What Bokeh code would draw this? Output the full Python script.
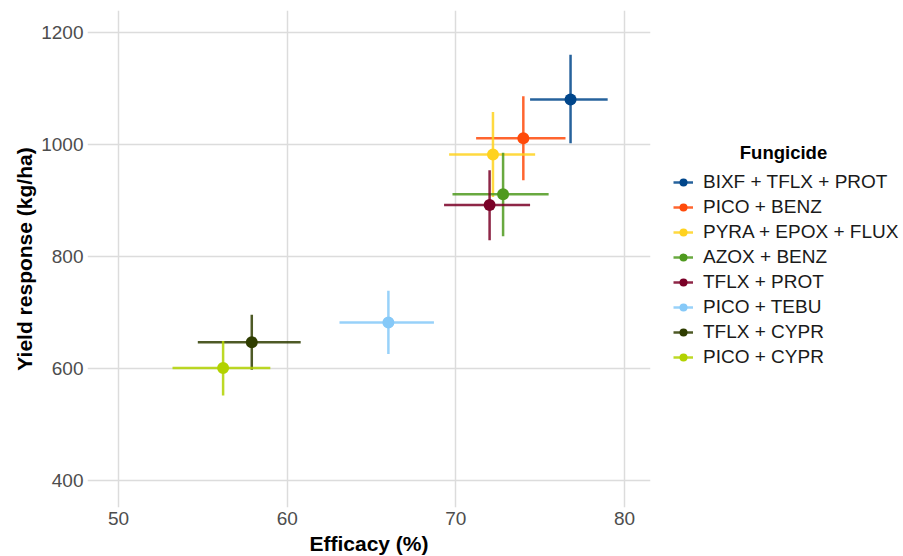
from bokeh.plotting import figure
from bokeh.models import ColumnDataSource, Legend, LegendItem, Range1d, FixedTicker
from bokeh.embed import file_html
from bokeh.resources import INLINE

fungicide = ["BIXF + TFLX + PROT", "PICO + BENZ", "PYRA + EPOX + FLUX", "AZOX + BENZ",
             "TFLX + PROT", "PICO + TEBU", "TFLX + CYPR", "PICO + CYPR"]
efficacy = [76.8, 74.0, 72.2, 72.8, 72.0, 66.0, 57.9, 56.2]
eff_lo = [74.4, 71.2, 69.6, 69.8, 69.3, 63.1, 54.7, 53.2]
eff_hi = [79.0, 76.5, 74.7, 75.5, 74.4, 68.7, 60.8, 59.0]
yield_resp = [1080, 1011, 982, 911, 892, 682, 647, 601]
yield_lo = [1002, 936, 906, 836, 829, 626, 598, 552]
yield_hi = [1160, 1086, 1058, 985, 954, 739, 696, 649]
colors = ["#00468B", "#FF4A0A", "#FFD21F", "#4F9A1F", "#7A0027", "#86C9F8", "#2F3D00", "#B2D200"]
legend_title = "Fungicide"

FONT = "Liberation Sans"

p = figure(output_backend="svg", toolbar_location=None,
           frame_width=563, frame_height=497,
           min_border_left=87, min_border_right=253, min_border_top=10, min_border_bottom=49,
           x_range=Range1d(48.16, 81.54), y_range=Range1d(352, 1239))
p.background_fill_color = "white"
p.border_fill_color = "white"
p.outline_line_color = None

for ax in (p.xaxis[0], p.yaxis[0]):
    ax.axis_line_color = None
    ax.major_tick_line_color = None
    ax.minor_tick_line_color = None
    ax.major_tick_out = 0
    ax.major_tick_in = 0
    ax.minor_tick_out = 0
    ax.major_label_text_font = FONT
    ax.major_label_text_font_size = "19px"
    ax.major_label_text_color = "#4D4D4D"
    ax.axis_label_text_font = FONT
    ax.axis_label_text_font_size = "21px"
    ax.axis_label_text_font_style = "bold"
    ax.axis_label_text_color = "black"

p.xaxis.axis_label = "Efficacy (%)"
p.yaxis.axis_label = "Yield response (kg/ha)"
p.xaxis.ticker = FixedTicker(ticks=[50, 60, 70, 80])
p.yaxis.ticker = FixedTicker(ticks=[400, 600, 800, 1000, 1200])
p.xaxis.major_label_standoff = 4
p.xaxis.axis_label_standoff = 4
p.yaxis.major_label_standoff = 4
p.yaxis.axis_label_standoff = 2

p.xgrid.grid_line_color = "#DCDCDC"
p.ygrid.grid_line_color = "#DCDCDC"
p.xgrid.grid_line_width = 1.5
p.ygrid.grid_line_width = 1.5
p.xgrid.minor_grid_line_color = None
p.ygrid.minor_grid_line_color = None

items = []
renderers_per = []
for i in range(len(fungicide)):
    src = ColumnDataSource(dict(x=[efficacy[i]], y=[yield_resp[i]],
                                xl=[eff_lo[i]], xh=[eff_hi[i]],
                                yl=[yield_lo[i]], yh=[yield_hi[i]]))
    h = p.segment(x0="xl", x1="xh", y0="y", y1="y", source=src,
                  line_color=colors[i], line_width=2.5, line_alpha=0.85)
    v = p.segment(x0="x", x1="x", y0="yl", y1="yh", source=src,
                  line_color=colors[i], line_width=2.5, line_alpha=0.85)
    renderers_per.append((src, h, v))

for i in range(len(fungicide)):
    src, h, v = renderers_per[i]
    c = p.scatter(x="x", y="y", source=src, size=12, fill_color=colors[i],
                  line_color=colors[i], line_width=0)
    items.append(LegendItem(label=fungicide[i], renderers=[h, c]))

legend = Legend(items=items, title="\u00a0" * 13 + legend_title,
                location=(23, 139),
                label_text_font=FONT, label_text_font_size="19px", label_text_color="#1A1A1A",
                title_text_font=FONT, title_text_font_size="18.5px", title_text_font_style="bold",
                title_text_color="black", title_standoff=7,
                glyph_width=20, glyph_height=20, label_height=21, label_standoff=10,
                spacing=3, padding=5, margin=0,
                border_line_color=None, background_fill_alpha=0)
p.add_layout(legend, "right")

open("out.html", "w").write(file_html(p, INLINE))
